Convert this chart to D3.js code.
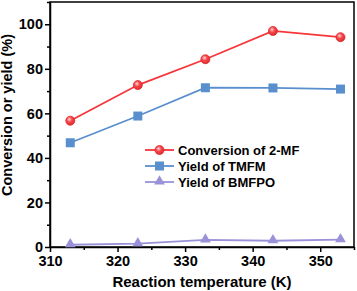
<!DOCTYPE html>
<html lang="en">
<head>
<meta charset="UTF-8">
<title>Conversion and yield vs temperature</title>
<script src="https://d3js.org/d3.v7.min.js"></script>
<style>
    body{ margin:0; background:#fff; font-family:"Liberation Sans", Arial, sans-serif; }
    .axis text{ font-weight:bold; font-size:14.5px; fill:#000; font-family:"Liberation Sans", Arial, sans-serif; }
    .axis path, .axis line{ stroke:#000; stroke-width:1.5; }
</style>
</head>
<body>
<div id="chart"></div>
<script>
    // data
    var temps = [313, 323, 333, 343, 353];
    var conversion = [56.7, 72.7, 84.3, 97.0, 94.2];
    var yieldTMFM = [46.8, 58.8, 71.5, 71.4, 70.9];
    var yieldBMFPO = [1.0, 1.5, 3.2, 2.8, 3.3];
    var seriesNames = ["Conversion of 2-MF", "Yield of TMFM", "Yield of BMFPO"];
    var xTicks = [310, 320, 330, 340, 350];
    var yTicks = [0, 20, 40, 60, 80, 100];

    var width = 357, height = 291;
    var margin = {top:2, right:3, bottom:44, left:50};

    var svg = d3.select("#chart").append("svg")
        .attr("width", width).attr("height", height);

    var defs = svg.append("defs");
    var grad = defs.append("radialGradient").attr("id","redball")
        .attr("cx","40%").attr("cy","35%").attr("r","65%");
    grad.append("stop").attr("offset","0%").attr("stop-color","#ffd6d6");
    grad.append("stop").attr("offset","45%").attr("stop-color","#f5484c");
    grad.append("stop").attr("offset","100%").attr("stop-color","#e02a2e");

    var x = d3.scaleLinear().domain([310, 355]).range([margin.left, width - margin.right]);
    var y = d3.scaleLinear().domain([0, 110]).range([height - margin.bottom, margin.top]);

    // frame
    svg.append("rect")
        .attr("x", margin.left).attr("y", margin.top)
        .attr("width", width - margin.right - margin.left)
        .attr("height", height - margin.bottom - margin.top)
        .attr("fill", "none").attr("stroke", "#000").attr("stroke-width", 1.5);

    // minor ticks
    var minorX = d3.range(315, 356, 10);
    var minorY = d3.range(10, 111, 20);
    svg.append("g").attr("class","axis")
        .attr("transform", "translate(0," + (height - margin.bottom) + ")")
        .call(d3.axisBottom(x).tickValues(minorX).tickSize(3).tickFormat(""))
        .select(".domain").remove();
    svg.append("g").attr("class","axis")
        .attr("transform", "translate(" + margin.left + ",0)")
        .call(d3.axisLeft(y).tickValues(minorY).tickSize(3).tickFormat(""))
        .select(".domain").remove();

    svg.append("g").attr("class","axis")
        .attr("transform", "translate(0," + (height - margin.bottom) + ")")
        .call(d3.axisBottom(x).tickValues(xTicks).tickSize(5).tickSizeOuter(0).tickPadding(4));
    svg.append("g").attr("class","axis")
        .attr("transform", "translate(" + margin.left + ",0)")
        .call(d3.axisLeft(y).tickValues(yTicks).tickSize(5).tickSizeOuter(0).tickPadding(2));

    // axis titles
    svg.append("text")
        .attr("x", 202).attr("y", 286.5)
        .attr("text-anchor", "middle")
        .style("font-weight","bold").style("font-size","15px")
        .text("Reaction temperature (K)");
    svg.append("text")
        .attr("transform", "translate(12,115) rotate(-90)")
        .attr("text-anchor", "middle")
        .style("font-weight","bold").style("font-size","14.5px")
        .text("Conversion or yield (%)");

    var line = d3.line()
        .x(function(d){ return x(d[0]); })
        .y(function(d){ return y(d[1]); });

    function pts(vals){ return temps.map(function(t, i){ return [t, vals[i]]; }); }

    var colors = ["#f5363b", "#5a8fce", "#9a92d8"];
    var sets = [conversion, yieldTMFM, yieldBMFPO];

    function marker(g, k, cx, cy){
        if(k === 0){
            g.append("circle").attr("cx", cx).attr("cy", cy).attr("r", 4.5)
                .attr("fill", "url(#redball)").attr("stroke", "#e0282c").attr("stroke-width", 0.8);
        } else if(k === 1){
            g.append("rect").attr("x", cx - 4.5).attr("y", cy - 4.5)
                .attr("width", 9).attr("height", 9).attr("fill", colors[1]);
        } else {
            g.append("path")
                .attr("d", d3.symbol().type(d3.symbolTriangle).size(50)())
                .attr("transform", "translate(" + cx + "," + (cy - 0.5) + ")")
                .attr("fill", colors[2]);
        }
    }

    sets.forEach(function(vals, k){
        var g = svg.append("g");
        g.append("path").datum(pts(vals))
            .attr("d", line).attr("fill", "none")
            .attr("stroke", colors[k]).attr("stroke-width", 1.8);
        pts(vals).forEach(function(p){ marker(g, k, x(p[0]), y(p[1])); });
    });

    // legend
    var legend = svg.append("g");
    seriesNames.forEach(function(name, k){
        var ly = 150 + k * 16;
        legend.append("line").attr("x1", 145).attr("x2", 174)
            .attr("y1", ly).attr("y2", ly)
            .attr("stroke", colors[k]).attr("stroke-width", 1.8);
        marker(legend, k, 159.5, ly);
        legend.append("text").attr("x", 178).attr("y", ly + 4.5)
            .style("font-weight","bold").style("font-size","13px")
            .text(name);
    });
</script>
</body>
</html>
